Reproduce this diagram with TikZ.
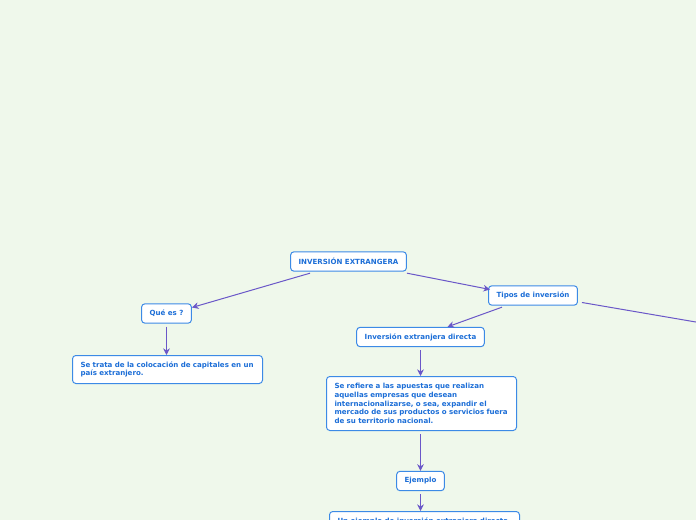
\documentclass[tikz,border=0pt]{standalone}
\usepackage{fontspec}
\setmainfont{DejaVu Sans}
\usepackage{xcolor}
\usetikzlibrary{arrows.meta}
\usetikzlibrary{calc}

\definecolor{fondo}{RGB}{239,248,235}
\definecolor{borde}{RGB}{60,138,230}
\definecolor{letra}{RGB}{28,110,215}
\definecolor{flecha}{RGB}{106,87,200}

\begin{document}
\begin{tikzpicture}[x=0.75pt,y=0.75pt,yscale=-1,xscale=1,
  caja/.style={draw=borde,fill=white,rounded corners=2.5pt,line width=0.75pt,
    text=letra,font=\bfseries\fontsize{5.3}{6.5}\selectfont,
    inner xsep=6pt,inner ysep=0pt,minimum height=14.5pt},
  cajatexto/.style={caja,align=left,anchor=north west,inner ysep=4pt,text width=130.5pt},
  enlace/.style={draw=flecha,line width=0.75pt,-{Stealth[length=5pt,width=5pt]}}]
\useasboundingbox (0,0) rectangle (696,520);
\clip (0,0) rectangle (696,520);

%Shape: Background
\fill [fondo] (0,0) rectangle (696,520);

% Text Node
\node [caja] (raiz) at (348.5,261.5) {INVERSIÓN EXTRANGERA};
% Text Node
\node [caja] (quees) at (166.5,313.5) {Qué es ?};
% Text Node
\node [cajatexto,minimum height=21pt] (definicion) at (72,355) {Se trata de la colocación de capitales en un\\país extranjero.};
% Text Node
\node [caja] (tipos) at (533,295.5) {Tipos de inversión};
% Text Node
\node [caja] (directa) at (420.5,337) {Inversión extranjera directa};
% Text Node
\node [cajatexto,minimum height=40.5pt] (refiere) at (326,376) {Se refiere a las apuestas que realizan\\aquellas empresas que desean\\internacionalizarse, o sea, expandir el\\mercado de sus productos o servicios fuera\\de su territorio nacional.};
% Text Node
\node [caja] (ejemplo) at (420.5,481) {Ejemplo};
% Text Node
\node [cajatexto,inner ysep=5pt,minimum height=0pt] (unejemplo) at (329,511) {Un ejemplo de inversión extranjera directa};

%Straight Lines
\coordinate (fuera) at (760,333);
\draw [enlace] ($(raiz.south west)+(20,1.5)$) -- ($(quees.east)+(0,-6)$);
\draw [enlace] ($(raiz.south east)+(0,1.5)$) -- ($(tipos.west)+(2,-6)$);
\draw [enlace] ($(tipos.south west)+(14,1.5)$) -- ($(directa.north)+(27,0)$);
\draw [draw=flecha,line width=0.75pt] ($(tipos.east)+(4,7)$) -- (fuera);
\draw [enlace] ($(quees.south)+(0,3)$) -- (definicion.north -| quees.south);
\draw [enlace] ($(directa.south)+(0,3)$) -- (refiere.north -| directa.south);
\draw [enlace] ($(refiere.south -| ejemplo.north)+(0,3)$) -- (ejemplo.north);
\draw [enlace] ($(ejemplo.south)+(0,3)$) -- (unejemplo.north -| ejemplo.south);

\end{tikzpicture}
\end{document}
